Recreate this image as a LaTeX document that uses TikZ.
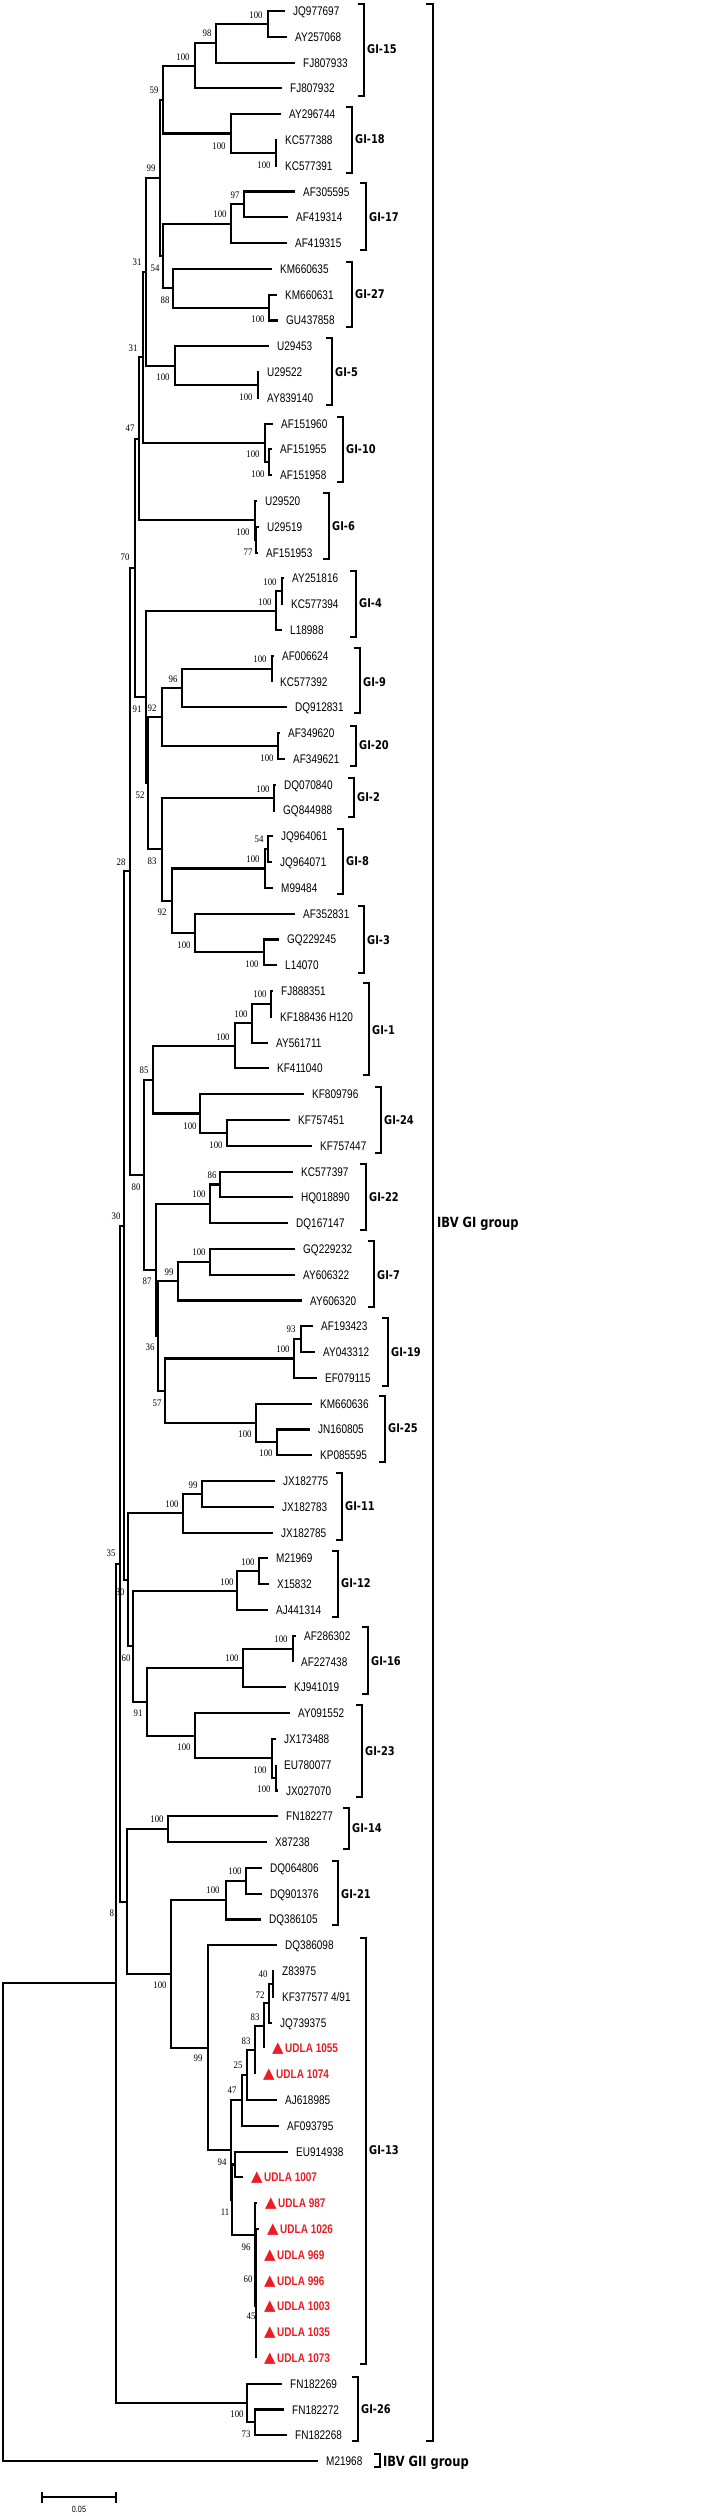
\documentclass[tikz,border=0pt]{standalone}
\usepackage{fontspec}
\usetikzlibrary{calc}

\newfontfamily\leaffont{Liberation Sans}[FakeStretch=0.8]
\newfontfamily\bootfont{Liberation Serif}[FakeStretch=0.88]
\newfontfamily\cladefont{DejaVu Sans}[FakeStretch=0.82]
\newfontfamily\trifont{DejaVu Sans}
\definecolor{udlared}{RGB}{236,28,36}

\newcommand\udla[1]{{\color{udlared}{\trifont\fontsize{15}{15}\selectfont ▲}\hspace{1.5pt}\textbf{UDLA #1}}}

% clade: node at x=#2, halfway between first (#3) and last (#4) child
\newcommand\clade[4]{%
  \path ($(#3)!.5!(#4)$) coordinate (#1m);
  \coordinate (#1) at (#2,0 |- #1m);
  \draw[branch] (#3) -| (#1) |- (#4);
}

\tikzset{
  branch/.style={line width=2.1pt},
  leaf_lbl/.style={font=\leaffont\fontsize{12.5}{14}\selectfont, anchor=west,
    inner sep=0pt, xshift=8pt, text height=9pt, text depth=0pt},
  boot_lbl/.style={font=\bootfont\fontsize{10}{12}\selectfont, inner sep=0pt},
}

\begin{document}
\begin{tikzpicture}[
  x=1pt, y=-1pt,
  group_br/.style={line width=2.6pt},
  group_lbl/.style={font=\cladefont\bfseries\fontsize{12}{14}\selectfont, anchor=west,
    inner sep=0pt, text height=8.7pt, text depth=0pt},
  big_lbl/.style={group_lbl, font=\cladefont\bfseries\fontsize{14}{16}\selectfont, text height=10.2pt},
  scale_bar/.style={line width=1.8pt},
  ]

  \fill[white] (0,0) rectangle (712,2516);

  % leaves
  \foreach \tip/\name [count=\i from 0] in {
    285/JQ977697, 287/AY257068, 295/FJ807933, 282/FJ807932,
    281/AY296744, 277/KC577388, 277/KC577391,
    295/AF305595, 288/AF419314, 287/AF419315,
    272/KM660635, 277/KM660631, 278/GU437858,
    269/U29453, 259/U29522, 259/AY839140,
    273/AF151960, 272/AF151955, 272/AF151958,
    257/U29520, 259/U29519, 258/AF151953,
    284/AY251816, 283/KC577394, 282/L18988,
    274/AF006624, 272/KC577392, 287/DQ912831,
    280/AF349620, 285/AF349621,
    276/DQ070840, 275/GQ844988,
    273/JQ964061, 272/JQ964071, 273/M99484,
    295/AF352831, 279/GQ229245, 277/L14070,
    273/FJ888351, 272/KF188436 H120, 268/AY561711, 269/KF411040,
    304/KF809796, 290/KF757451, 312/KF757447,
    293/KC577397, 293/HQ018890, 288/DQ167147,
    295/GQ229232, 295/AY606322, 302/AY606320,
    313/AF193423, 315/AY043312, 317/EF079115,
    312/KM660636, 310/JN160805, 312/KP085595,
    275/JX182775, 274/JX182783, 273/JX182785,
    268/M21969, 269/X15832, 268/AJ441314,
    296/AF286302, 293/AF227438, 286/KJ941019,
    290/AY091552, 276/JX173488, 276/EU780077, 278/JX027070,
    278/FN182277, 267/X87238,
    262/DQ064806, 262/DQ901376, 261/DQ386105,
    277/DQ386098, 274/Z83975, 274/{KF377577 4/91}, 272/JQ739375,
    264/\udla{1055}, 255/\udla{1074}, 277/AJ618985, 279/AF093795,
    288/EU914938, 243/\udla{1007}, 257/\udla{987}, 259/\udla{1026},
    256/\udla{969}, 256/\udla{996}, 256/\udla{1003}, 256/\udla{1035}, 256/\udla{1073},
    282/FN182269, 284/FN182272, 287/FN182268,
    318/M21968}{
    \coordinate (L\i) at (\tip,{11+25.79*\i});
    \node[leaf_lbl] (T\i) at (L\i) {\name};
  }

  % bootstrap values
  \foreach \x/\y/\v [count=\k] in {
    256/15/100, 207/33/98, 183/57/100, 154/90/59, 219/146/100, 264/165/100,
    151/168/99, 235/195/97, 220/214/100, 137/262/31, 155/268/54, 165/300/88,
    258/319/100, 133/348/31, 163/377/100, 246/397/100, 130/428/47, 253/454/100,
    258/474/100, 243/532/100, 248/552/77, 125/557/70, 270/582/100, 265/602/100,
    260/659/100, 173/679/96, 137/709/91, 152/708/92, 267/758/100, 263/789/100,
    140/795/52, 259/839/54, 253/859/100, 152/861/83, 121/862/28, 162/912/92,
    184/945/100, 252/964/100, 260/994/100, 241/1014/100, 223/1037/100, 144/1070/85,
    190/1126/100, 216/1145/100, 212/1175/86, 199/1194/100, 136/1187/80, 116/1216/30,
    199/1252/100, 169/1272/99, 147/1281/87, 291/1329/93, 283/1349/100, 150/1347/36,
    157/1403/57, 245/1434/100, 266/1453/100, 193/1485/99, 172/1504/100, 111/1553/35,
    248/1562/100, 227/1582/100, 120/1592/80, 281/1639/100, 232/1658/100, 126/1658/60,
    138/1713/91, 184/1747/100, 260/1770/100, 264/1789/100, 157/1819/100, 235/1871/100,
    213/1890/100, 114/1913/81, 160/1985/100, 263/1974/40, 260/1995/72, 255/2017/83,
    246/2041/83, 198/2058/99, 238/2065/25, 232/2090/47, 222/2162/94, 225/2212/11,
    246/2247/96, 248/2279/60, 251/2316/45, 237/2414/100, 246/2434/73}{
    \node[boot_lbl] (B\k) at (\x,\y) {\v};
  }

  % GI-15, GI-18
  \clade{a1}{268}{L0}{L1}
  \clade{a2}{216}{a1}{L2}
  \clade{a3}{195}{a2}{L3}
  \clade{b1}{276}{L5}{L6}
  \clade{b2}{231}{L4}{b1}
  \clade{c59}{163}{a3}{b2}
  % GI-17, GI-27
  \clade{d1}{244}{L7}{L8}
  \clade{d2}{231}{d1}{L9}
  \clade{e1}{269}{L11}{L12}
  \clade{e2}{173}{L10}{e1}
  \clade{f54}{163}{d2}{e2}
  \clade{g99}{160}{c59}{f54}
  % GI-5, GI-10, GI-6
  \clade{h1}{258}{L14}{L15}
  \clade{h2}{175}{L13}{h1}
  \clade{x31}{146}{g99}{h2}
  \clade{k1}{269}{L17}{L18}
  \clade{k2}{265}{L16}{k1}
  \clade{j31}{143}{x31}{k2}
  \clade{s6a}{256}{L20}{L21}
  \clade{s6b}{255}{L19}{s6a}
  \clade{l47}{139}{j31}{s6b}
  % GI-4, GI-9, GI-20, GI-2, GI-8, GI-3
  \clade{s4a}{282}{L22}{L23}
  \clade{s4b}{276}{s4a}{L24}
  \clade{s9a}{272}{L25}{L26}
  \clade{s9b}{182}{s9a}{L27}
  \clade{s20}{278}{L28}{L29}
  \clade{q92}{162}{s9b}{s20}
  \clade{s2}{274}{L30}{L31}
  \clade{s8a}{268}{L32}{L33}
  \clade{s8b}{265}{s8a}{L34}
  \clade{s3a}{264}{L36}{L37}
  \clade{s3b}{195}{L35}{s3a}
  \clade{s92}{172}{s8b}{s3b}
  \clade{r83}{162}{s2}{s92}
  \clade{p52}{148}{q92}{r83}
  \clade{n91}{146}{s4b}{p52}
  \clade{m70}{135}{l47}{n91}
  % GI-1, GI-24, GI-22, GI-7, GI-19, GI-25
  \clade{t1a}{271}{L38}{L39}
  \clade{t1b}{252}{t1a}{L40}
  \clade{t1c}{235}{t1b}{L41}
  \clade{t24a}{227}{L43}{L44}
  \clade{t24b}{200}{L42}{t24a}
  \clade{w85}{153}{t1c}{t24b}
  \clade{t22a}{220}{L45}{L46}
  \clade{t22b}{210}{t22a}{L47}
  \clade{t7a}{210}{L48}{L49}
  \clade{t7b}{178}{t7a}{L50}
  \clade{t19a}{301}{L51}{L52}
  \clade{t19b}{294}{t19a}{L53}
  \clade{t25a}{277}{L55}{L56}
  \clade{t25b}{256}{L54}{t25a}
  \clade{z57}{165}{t19b}{t25b}
  \clade{y36}{158}{t7b}{z57}
  \clade{x87}{156}{t22b}{y36}
  \clade{v80}{144}{w85}{x87}
  \clade{u28}{130}{m70}{v80}
  % GI-11, GI-12, GI-16, GI-23
  \clade{u11a}{202}{L57}{L58}
  \clade{u11b}{183}{u11a}{L59}
  \clade{u12a}{259}{L60}{L61}
  \clade{u12b}{237}{u12a}{L62}
  \clade{u16a}{293}{L63}{L64}
  \clade{u16b}{243}{u16a}{L65}
  \clade{u23a}{276}{L68}{L69}
  \clade{u23b}{272}{L67}{u23a}
  \clade{u23c}{195}{L66}{u23b}
  \clade{n91b}{147}{u16b}{u23c}
  \clade{n60}{133}{u12b}{n91b}
  \clade{n80}{128}{u11b}{n60}
  \clade{n30}{124}{u28}{n80}
  % GI-14, GI-21, GI-13
  \clade{v14}{168}{L70}{L71}
  \clade{v21a}{246}{L72}{L73}
  \clade{v21b}{226}{v21a}{L74}
  \clade{w40}{273}{L76}{L77}
  \clade{w72}{269}{w40}{L78}
  \clade{w83a}{264}{w72}{L79}
  \clade{w83b}{255}{w83a}{L80}
  \clade{w25}{247}{w83b}{L81}
  \clade{w47}{242}{w25}{L82}
  \clade{w94}{235}{L83}{L84}
  \clade{w45}{256}{L87}{L91}
  \foreach \j in {88,89,90} \draw[branch] (w45) |- (L\j);
  \clade{w60}{255.5}{L86}{w45}
  \clade{w96}{255}{L85}{w60}
  \clade{w11}{232}{w94}{w96}
  \clade{w17}{231}{w47}{w11}
  \clade{w99}{208}{L75}{w17}
  \clade{v100}{171}{v21b}{w99}
  \clade{n81}{127}{v14}{v100}
  \clade{n35}{120}{n30}{n81}
  % GI-26 and root
  \clade{z26a}{255}{L93}{L94}
  \clade{z26b}{247}{L92}{z26a}
  \clade{gi}{116}{n35}{z26b}
  \clade{root}{3}{gi}{L95}

  % genotype brackets
  \foreach \x/\ya/\yb/\ly/\lab [count=\k] in {
    364/4/96/49/GI-15, 352/107/173/139/GI-18, 366/183/250/217/GI-17,
    352/262/327/294/GI-27, 332/338/405/372/GI-5, 343/417/482/449/GI-10,
    329/493/559/526/GI-6, 356/571/637/603/GI-4, 360/648/713/682/GI-9,
    356/726/766/745/GI-20, 354/778/817/797/GI-2, 343/829/894/861/GI-8,
    364/906/973/940/GI-3, 369/983/1075/1030/GI-1, 381/1087/1153/1120/GI-24,
    366/1164/1230/1197/GI-22, 374/1241/1307/1275/GI-7, 388/1318/1386/1352/GI-19,
    385/1396/1462/1428/GI-25, 342/1473/1540/1506/GI-11, 338/1551/1617/1583/GI-12,
    368/1627/1694/1661/GI-16, 362/1705/1797/1751/GI-23, 349/1808/1849/1828/GI-14,
    338/1861/1925/1894/GI-21, 366/1938/2364/2150/GI-13, 358/2377/2441/2409/GI-26}{
    \draw[group_br] ({\x-6},\ya) -- (\x,\ya) -- (\x,\yb) -- ({\x-6},\yb);
    \node[group_lbl] (G\k) at ({\x+3},\ly) {\lab};
  }

  % serogroups
  \draw[group_br] (426,4) -- (433,4) -- (433,2441) -- (426,2441);
  \node[big_lbl] (gone) at (437,1222) {IBV GI group};
  \draw[group_br] (374,2454) -- (380,2454) -- (380,2467) -- (374,2467);
  \node[big_lbl] (gtwo) at (383,2461) {IBV GII group};

  % scale
  \draw[scale_bar] (42,2491.5) -- (42,2502.5) (42,2497) -- (116,2497) (116,2491.5) -- (116,2502.5);
  \node[font=\leaffont\fontsize{9}{10}\selectfont, inner sep=0pt] (sc) at (79,2509) {0.05};

\end{tikzpicture}
\end{document}
